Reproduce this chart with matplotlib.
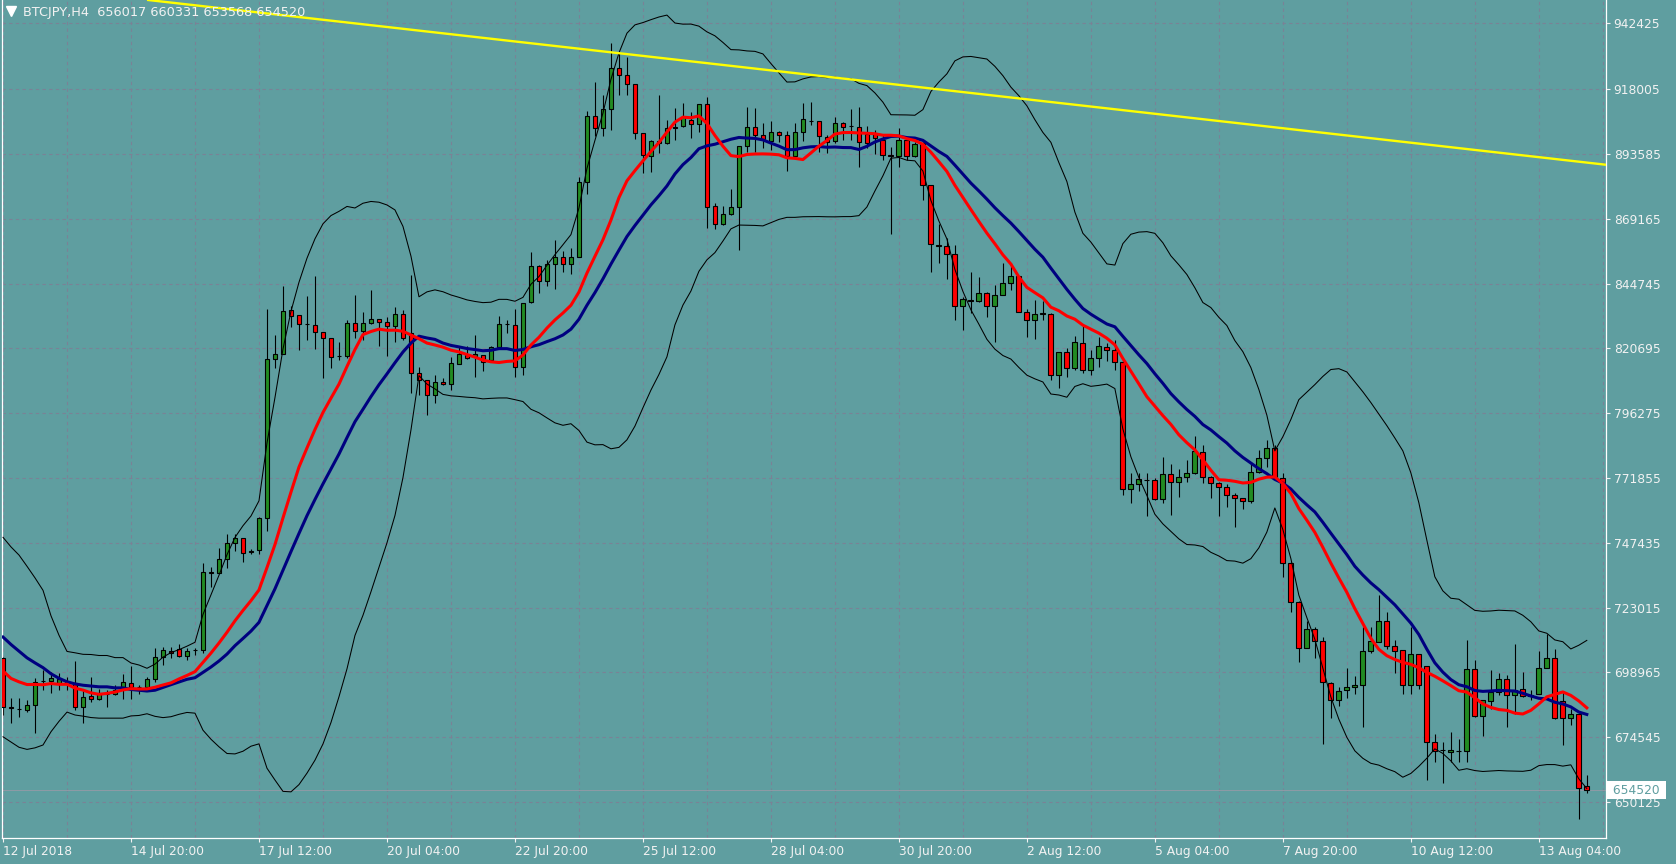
import numpy as np
import pandas as pd
import matplotlib
matplotlib.use("Agg")
from matplotlib import pyplot as plt

# BTCJPY H4 candles, prices in thousands of JPY
opens = [704.0, 685.6, 685.2, 684.8, 686.5, 695.4, 695.6, 694.8, 695.0, 694.6,
         685.6, 689.8, 688.6, 690.8, 690.8, 693.3, 694.9, 693.1, 693.1, 696.1,
         704.6, 706.9, 707.4, 704.9, 707.0, 707.1, 736.3, 736.2, 741.2, 747.4,
         749.1, 744.4, 744.7, 756.9, 816.3, 818.5, 834.8, 832.8, 829.5, 829.2,
         826.4, 824.2, 817.4, 817.5, 829.8, 826.9, 829.8, 831.3, 830.2, 828.9,
         833.2, 826.3, 811.0, 808.5, 802.9, 807.9, 807.0, 814.7, 818.0, 817.5,
         817.9, 816.0, 821.0, 829.6, 829.2, 813.5, 837.7, 851.5, 845.7, 852.1,
         854.8, 852.3, 854.8, 883.0, 907.8, 903.0, 910.5, 925.8, 923.1, 919.6,
         901.2, 892.7, 897.7, 897.4, 903.1, 903.9, 906.2, 904.6, 912.1, 873.9,
         867.0, 870.8, 873.4, 896.4, 903.4, 900.5, 898.3, 901.8, 900.5, 892.7,
         901.8, 905.8, 905.8, 899.9, 898.3, 905.2, 904.0, 903.7, 901.1, 901.0,
         898.6, 893.2, 892.6, 898.8, 892.6, 897.6, 881.7, 859.4, 858.8, 856.0,
         836.3, 838.5, 838.1, 841.3, 836.5, 840.6, 844.8, 847.5, 834.1, 831.0,
         833.5, 833.5, 810.6, 818.9, 813.2, 822.6, 812.3, 816.7, 821.0, 820.0,
         815.2, 767.5, 769.4, 771.0, 771.0, 763.7, 773.1, 770.4, 772.0, 773.5,
         781.6, 772.2, 769.7, 768.5, 765.2, 764.1, 763.1, 773.9, 779.4, 782.9,
         771.6, 739.7, 725.3, 708.1, 715.2, 710.6, 694.8, 688.3, 692.1, 693.1,
         694.0, 706.7, 710.2, 718.0, 708.6, 707.1, 694.0, 705.6, 701.1, 672.7,
         669.6, 668.7, 669.2, 669.2, 700.2, 682.5, 688.0, 691.5, 696.1, 690.2,
         692.7, 690.0, 690.8, 700.6, 704.0, 688.1, 681.5, 683.3, 656.017]
highs = [704.5, 689.3, 689.0, 688.3, 696.5, 699.6, 699.0, 698.4, 697.1, 703.0,
         692.1, 697.1, 692.7, 692.1, 694.0, 698.0, 701.1, 694.0, 697.1, 708.1,
         708.4, 708.4, 709.3, 708.0, 708.1, 740.0, 738.4, 745.3, 750.7, 750.6,
         749.3, 745.0, 757.1, 835.1, 825.4, 843.8, 836.3, 833.0, 840.1, 847.6,
         826.6, 824.4, 822.9, 831.1, 840.5, 834.2, 842.3, 831.5, 832.1, 835.8,
         834.8, 848.0, 813.3, 808.7, 810.4, 809.2, 817.3, 821.0, 821.3, 825.4,
         818.1, 821.5, 832.6, 831.1, 835.4, 837.5, 856.5, 851.7, 853.8, 861.1,
         857.0, 858.3, 884.9, 909.5, 920.3, 915.5, 935.1, 931.2, 930.0, 919.8,
         901.4, 898.5, 915.6, 906.2, 910.6, 912.4, 909.3, 912.3, 915.0, 874.9,
         873.9, 880.1, 896.6, 910.9, 910.6, 904.9, 905.9, 902.0, 902.0, 905.0,
         912.7, 913.1, 906.0, 900.5, 907.2, 905.4, 910.2, 911.2, 903.8, 902.3,
         900.5, 896.1, 903.0, 899.0, 898.0, 897.8, 881.9, 867.3, 861.7, 859.2,
         839.8, 849.1, 847.3, 841.5, 844.4, 852.5, 852.5, 847.7, 835.4, 838.5,
         838.1, 833.7, 819.1, 820.7, 825.0, 829.2, 820.0, 824.6, 822.3, 823.6,
         816.0, 773.5, 773.7, 773.5, 771.6, 779.7, 777.0, 775.0, 778.7, 787.5,
         784.1, 772.4, 770.4, 769.5, 766.0, 764.3, 777.9, 782.3, 786.0, 784.1,
         773.5, 740.3, 725.5, 718.0, 715.7, 712.1, 695.0, 693.3, 700.5, 697.5,
         715.9, 715.9, 727.8, 721.5, 710.9, 707.3, 715.9, 705.8, 701.3, 675.8,
         672.7, 676.4, 673.6, 710.9, 703.4, 688.5, 699.6, 698.4, 697.7, 709.4,
         699.0, 692.1, 706.9, 713.1, 707.7, 691.5, 685.2, 683.5, 660.331]
lows = [682.7, 679.6, 682.1, 684.0, 676.1, 692.1, 691.1, 692.1, 692.0, 684.6,
        679.8, 687.7, 688.3, 685.8, 690.2, 688.6, 688.6, 690.8, 692.7, 695.2,
        701.7, 704.0, 704.4, 703.6, 705.2, 705.9, 730.9, 736.0, 737.8, 744.4,
        740.3, 743.4, 743.4, 751.9, 812.9, 818.3, 828.6, 820.0, 823.6, 820.3,
        809.2, 812.9, 816.0, 816.7, 824.2, 823.6, 829.6, 821.3, 817.7, 822.9,
        823.6, 803.5, 802.9, 795.6, 800.0, 806.8, 804.8, 814.5, 816.3, 809.5,
        812.0, 815.8, 820.8, 826.1, 809.5, 810.4, 837.3, 841.4, 843.9, 842.9,
        849.0, 848.2, 854.6, 878.4, 900.3, 900.3, 902.6, 915.5, 915.5, 899.0,
        886.1, 886.8, 893.9, 897.2, 898.7, 903.7, 899.3, 901.8, 865.5, 865.1,
        866.8, 870.6, 857.4, 894.3, 894.3, 895.5, 894.9, 898.0, 887.2, 892.5,
        898.3, 904.3, 894.3, 893.7, 897.4, 898.7, 898.7, 888.4, 895.5, 893.6,
        891.3, 863.5, 888.6, 891.3, 892.4, 876.3, 849.1, 852.5, 846.3, 831.2,
        827.5, 833.8, 837.9, 832.3, 822.9, 840.4, 842.5, 834.0, 824.7, 824.1,
        831.0, 808.7, 805.7, 809.5, 812.2, 811.0, 810.4, 813.3, 815.8, 812.3,
        765.4, 762.5, 767.0, 757.5, 763.5, 762.5, 757.8, 764.7, 770.4, 773.3,
        770.0, 764.4, 757.5, 760.7, 753.5, 760.3, 762.2, 773.7, 776.0, 771.0,
        734.7, 721.5, 702.8, 707.9, 704.0, 671.7, 681.5, 686.2, 689.3, 690.8,
        678.3, 705.9, 710.0, 707.4, 698.4, 690.8, 690.8, 692.7, 658.5, 665.2,
        657.3, 665.2, 665.2, 665.2, 681.9, 674.8, 685.2, 690.2, 678.3, 683.3,
        689.6, 688.3, 690.6, 700.4, 681.3, 671.5, 679.0, 643.9, 653.568]
closes = [685.8, 685.3, 685.0, 686.5, 695.2, 695.6, 696.5, 696.1, 695.5, 685.8,
          689.6, 688.6, 691.2, 690.6, 692.1, 695.0, 693.1, 693.2, 696.1, 704.6,
          707.1, 705.9, 704.9, 706.7, 707.1, 736.3, 736.2, 741.2, 747.4, 749.1,
          743.7, 744.0, 756.9, 816.3, 818.5, 834.6, 832.6, 829.6, 829.4, 826.4,
          824.2, 817.3, 817.5, 829.8, 826.9, 829.8, 831.3, 830.2, 828.9, 833.2,
          824.2, 811.0, 808.5, 802.9, 807.9, 807.0, 815.0, 818.5, 817.0, 818.5,
          815.4, 821.0, 829.6, 829.7, 813.5, 837.3, 851.5, 845.7, 852.0, 854.8,
          852.3, 854.8, 883.0, 907.8, 903.0, 910.3, 925.8, 923.1, 919.6, 901.2,
          893.0, 898.3, 898.3, 903.0, 903.7, 907.4, 904.6, 912.1, 873.6, 867.0,
          870.8, 873.6, 896.4, 903.4, 900.5, 898.9, 901.8, 900.5, 892.7, 901.8,
          906.4, 905.9, 900.2, 898.0, 905.2, 903.7, 903.9, 898.0, 897.6, 899.5,
          893.2, 892.6, 898.8, 892.6, 897.0, 881.7, 859.5, 858.8, 856.0, 836.3,
          838.8, 838.4, 841.3, 836.5, 840.6, 844.8, 847.5, 834.1, 831.0, 833.5,
          833.6, 810.3, 818.9, 813.2, 822.7, 812.3, 816.7, 821.3, 820.0, 815.2,
          767.5, 769.4, 771.2, 771.1, 763.7, 773.1, 770.4, 772.0, 773.5, 782.0,
          772.2, 769.7, 768.5, 765.2, 764.1, 763.1, 773.9, 779.4, 782.9, 771.6,
          739.7, 725.3, 708.1, 715.2, 710.6, 695.2, 688.3, 691.7, 693.1, 694.2,
          706.7, 710.5, 718.0, 708.6, 706.7, 694.0, 705.6, 694.0, 672.7, 669.2,
          669.5, 669.6, 669.3, 700.2, 682.5, 688.3, 691.5, 696.1, 690.2, 692.0,
          689.8, 690.4, 700.6, 704.0, 681.5, 681.5, 683.3, 655.5, 654.520]
# closes just left of the visible window (needed by the moving averages)
prior_closes = [741.3, 735.0, 736.5, 733.0, 731.6, 742.5, 730.0, 721.5, 701.8, 699.6,
                694.6, 697.2, 690.6, 700.0, 695.0, 705.0, 699.0, 702.0, 698.6]

date_labels = ["12 Jul 2018", "14 Jul 20:00", "17 Jul 12:00", "20 Jul 04:00",
               "22 Jul 20:00", "25 Jul 12:00", "28 Jul 04:00", "30 Jul 20:00",
               "2 Aug 12:00", "5 Aug 04:00", "7 Aug 20:00", "10 Aug 12:00",
               "13 Aug 04:00"]
price_ticks = [942425, 918005, 893585, 869165, 844745, 820695, 796275,
               771855, 747435, 723015, 698965, 674545, 650125]

# trend line anchors (bar index, price)
trend_x = [18, 198]
trend_y = [951300, 890200]

fast_period = 13
slow_period = 20

BG = "#5F9EA0"
FG = "#F2F2F2"
GRID = "#7A8296"
FS = 8.8

o = np.array(opens) * 1000
h = np.array(highs) * 1000
l = np.array(lows) * 1000
c = np.array(closes) * 1000
n = len(c)
x = np.arange(n)

full = pd.Series(np.concatenate([np.array(prior_closes) * 1000, c]))
k = len(prior_closes)
fast = full.rolling(fast_period).mean().values[k:]
slow = full.rolling(slow_period).mean().values[k:]
sd = full.rolling(slow_period).std(ddof=0).values[k:]
upper = slow + 2 * sd
lower = slow - 2 * sd

fig = plt.figure(figsize=(16.76, 8.64), dpi=100)
fig.patch.set_facecolor(BG)
ax = fig.add_axes([1.5 / 1676, 26 / 864, 1604.5 / 1676, 838 / 864])
ax.set_facecolor(BG)

ax.set_xlim(-0.19, 200.4)
ax.set_ylim(636579, 951249)

# grid
for p in price_ticks:
    ax.axhline(p, color=GRID, lw=0.8, ls=(0, (3, 3)), zorder=0)
for g in range(0, 201, 8):
    ax.axvline(g, color=GRID, lw=0.8, ls=(0, (3, 3)), zorder=0)

# candles
up = c >= o
ax.vlines(x, l, h, color="black", lw=0.8, zorder=2)
ax.bar(x, np.abs(c - o), bottom=np.minimum(o, c), width=0.6,
       color=np.where(up, "#228B22", "#FF0000"), edgecolor="black",
       linewidth=0.8, zorder=3)

# indicators
ax.plot(x, upper, color="black", lw=0.75, zorder=4)
ax.plot(x, lower, color="black", lw=0.75, zorder=4)
ax.plot(x, slow, color="#000080", lw=2.2, zorder=5)
ax.plot(x, fast, color="#FF0000", lw=2.2, zorder=6)

ax.axline((trend_x[0], trend_y[0]), (trend_x[1], trend_y[1]),
          color="#FFFF00", lw=1.7, zorder=7)

# bid line and price box
last = c[-1]
ax.axhline(last, color="#8E9AA6", lw=0.7, zorder=1)
ax.annotate(f" {last:.0f} ", xy=(1, last), xycoords=("axes fraction", "data"),
            xytext=(2.5, 0), textcoords="offset points", ha="left", va="center",
            fontsize=FS, color=BG,
            bbox=dict(boxstyle="square,pad=0.2", fc="white", ec="none"),
            annotation_clip=False, zorder=10)

# axes styling
for side in ["left", "bottom", "right"]:
    ax.spines[side].set_color("white")
    ax.spines[side].set_linewidth(0.9)
ax.spines["top"].set_visible(False)

ax.yaxis.tick_right()
ax.set_yticks(price_ticks)
ax.set_yticklabels([str(p) for p in price_ticks])
ax.tick_params(axis="y", colors=FG, length=3, width=0.8, pad=2.5, labelsize=FS)

ax.set_xticks(range(0, 16 * len(date_labels), 16))
ax.set_xticklabels(date_labels)
ax.tick_params(axis="x", colors=FG, length=3, width=0.8, pad=2, labelsize=FS)
for t in ax.get_xticklabels():
    t.set_horizontalalignment("left")

# header
ax.plot([0.0062], [0.9869], marker="v", ms=6.5, color="white",
        transform=ax.transAxes, clip_on=False)
title = "BTCJPY,H4  {:.0f} {:.0f} {:.0f} {:.0f}".format(o[-1], h[-1], l[-1], c[-1])
ax.text(0.0137, 0.9855, title, transform=ax.transAxes, color=FG,
        fontsize=9.3, va="center", ha="left", zorder=8)

fig.savefig("out.png", dpi=100, facecolor=BG)
